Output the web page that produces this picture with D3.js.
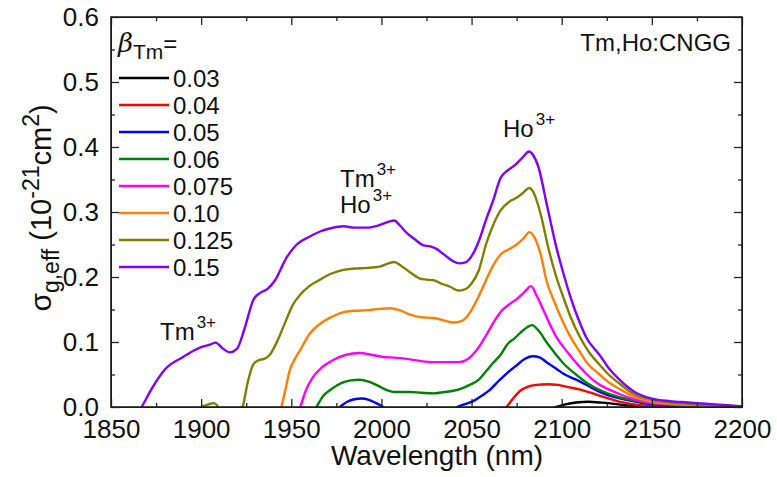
<!DOCTYPE html>
<html>
<head>
<meta charset="utf-8">
<script src="https://cdn.jsdelivr.net/npm/d3@7"></script>
<style>
  body { margin: 0; background: #fff; }
  svg text { font-family: "Liberation Sans", Arial, sans-serif; fill: #111; }
</style>
</head>
<body>
<div id="chart"></div>
<script>
// beta_Tm values shown in the legend
const betas = ["0.03", "0.04", "0.05", "0.06", "0.075", "0.10", "0.125", "0.15"];
const colors = ["#000000", "#ff0000", "#0000ff", "#008000", "#ff00ff", "#ff8000", "#808000", "#8000ff"];

const xTicks = [1850, 1900, 1950, 2000, 2050, 2100, 2150, 2200];
const yTicks = [0.0, 0.1, 0.2, 0.3, 0.4, 0.5, 0.6];

// [wavelength nm, sigma_g,eff 1e-21 cm2] (negatives are clipped away)
const s003 = [[2088,-0.01],[2097,0],[2102,0.004],[2108,0.007],[2115,0.008],[2121,0.007],[2126,0.006],[2134,0.003],[2142,0.001],[2155,0]];
const s004 = [[2060,-0.03],[2069.5,0],[2073,0.013],[2077,0.025],[2081,0.031],[2086,0.034],[2092,0.035],[2098,0.034],[2103,0.031],[2110,0.027],[2116,0.022],[2125,0.014],[2134,0.007],[2142,0.003],[2152,0.001],[2165,0]];
const s005 = [[1970,-0.02],[1977,0],[1981,0.008],[1985,0.012],[1989,0.013],[1993,0.011],[1997,0.006],[2001,0],[2010,-0.03],[2030,-0.03],[2042,0],[2046,0.004],[2051,0.009],[2056,0.018],[2060,0.026],[2065,0.04],[2070,0.053],[2075,0.064],[2079,0.073],[2084,0.078],[2088,0.076],[2092,0.068],[2097,0.059],[2101,0.051],[2108,0.042],[2115,0.032],[2122,0.022],[2134,0.012],[2145,0.006],[2155,0.003],[2165,0.001],[2180,0]];
const s006 = [[1958,-0.03],[1964,0],[1968,0.018],[1972,0.027],[1978,0.037],[1983,0.041],[1988,0.042],[1993,0.039],[1998,0.033],[2003,0.026],[2007,0.023],[2012,0.023],[2016,0.023],[2022,0.022],[2029,0.021],[2035,0.023],[2040,0.025],[2045,0.029],[2049,0.034],[2054,0.042],[2058,0.055],[2062,0.068],[2066,0.08],[2070,0.097],[2074,0.106],[2077,0.114],[2081,0.123],[2083.5,0.126],[2087,0.118],[2092,0.098],[2097,0.08],[2101,0.067],[2107,0.052],[2114,0.037],[2122,0.025],[2132,0.015],[2140,0.01],[2150,0.006],[2160,0.004],[2170,0.002],[2185,0.001],[2200,0]];
const s0075 = [[1948,-0.04],[1955,0],[1958,0.025],[1962,0.046],[1967,0.061],[1973,0.072],[1980,0.08],[1988,0.083],[1995,0.08],[2001,0.077],[2007,0.076],[2014,0.074],[2021,0.071],[2029,0.069],[2036,0.069],[2043,0.069],[2048,0.074],[2053,0.088],[2058,0.11],[2062,0.129],[2067,0.149],[2071,0.158],[2075,0.166],[2079,0.176],[2083,0.186],[2086,0.172],[2090,0.148],[2097,0.108],[2103,0.085],[2108,0.068],[2114,0.05],[2120,0.036],[2126,0.027],[2132,0.02],[2140,0.012],[2150,0.006],[2160,0.004],[2170,0.002],[2185,0.001],[2200,0]];
const s010 = [[1938,-0.04],[1944.5,0],[1947,0.03],[1949,0.055],[1952,0.074],[1955,0.088],[1960,0.112],[1966,0.128],[1972,0.138],[1979,0.146],[1985,0.148],[1992,0.149],[1999,0.151],[2005,0.152],[2010,0.149],[2016,0.142],[2022,0.138],[2029,0.137],[2035,0.133],[2040,0.13],[2045,0.133],[2049,0.145],[2053,0.165],[2058,0.195],[2062,0.218],[2067,0.237],[2071,0.243],[2075,0.25],[2079,0.26],[2082,0.269],[2084,0.265],[2088,0.238],[2092,0.19],[2095,0.168],[2100,0.135],[2105,0.107],[2110,0.085],[2114,0.068],[2121,0.05],[2126,0.038],[2132,0.028],[2140,0.016],[2150,0.008],[2160,0.005],[2170,0.003],[2185,0.001],[2200,0]];
const s0125 = [[1893,-0.02],[1900,0],[1904,0.004],[1907,0.006],[1909,0.002],[1912,-0.015],[1918,-0.02],[1923,0],[1926,0.04],[1929,0.066],[1932,0.072],[1935,0.074],[1938,0.08],[1942,0.1],[1946,0.126],[1951,0.158],[1955,0.173],[1960,0.186],[1966,0.196],[1972,0.205],[1979,0.211],[1985,0.213],[1992,0.214],[1999,0.216],[2004,0.221],[2007,0.223],[2011,0.217],[2016,0.207],[2021,0.198],[2025,0.196],[2029,0.195],[2033,0.19],[2038,0.185],[2043,0.179],[2047,0.182],[2050,0.19],[2054,0.21],[2058,0.25],[2062,0.28],[2066,0.302],[2071,0.316],[2075,0.322],[2078,0.328],[2082,0.337],[2084,0.332],[2088,0.3],[2093,0.24],[2097,0.2],[2101,0.168],[2105,0.138],[2110,0.108],[2115,0.085],[2121,0.065],[2126,0.05],[2132,0.036],[2140,0.02],[2150,0.011],[2160,0.007],[2170,0.005],[2180,0.003],[2190,0.002],[2200,0.001]];
const s015 = [[1855,-0.05],[1867,0],[1873,0.03],[1880,0.058],[1890,0.077],[1899,0.091],[1905,0.096],[1908,0.099],[1912,0.09],[1916,0.084],[1920,0.09],[1924,0.12],[1929,0.165],[1933,0.176],[1937,0.182],[1941,0.195],[1947,0.228],[1953,0.25],[1960,0.262],[1966,0.27],[1972,0.275],[1979,0.278],[1985,0.276],[1992,0.276],[1999,0.28],[2004,0.285],[2007,0.287],[2010,0.28],[2014,0.268],[2019,0.257],[2023,0.249],[2027,0.247],[2030,0.244],[2035,0.234],[2040,0.224],[2043,0.221],[2047,0.223],[2050,0.232],[2054,0.255],[2058,0.288],[2062,0.318],[2066,0.352],[2070,0.364],[2074,0.372],[2078,0.383],[2082,0.393],[2084,0.388],[2087,0.37],[2092,0.308],[2097,0.246],[2101,0.205],[2105,0.168],[2110,0.13],[2114,0.105],[2118,0.09],[2121,0.08],[2126,0.06],[2132,0.042],[2140,0.024],[2150,0.013],[2160,0.009],[2170,0.007],[2180,0.005],[2190,0.003],[2200,0.001]];

const series = [s003, s004, s005, s006, s0075, s010, s0125, s015];

const width = 777, height = 477;
const margin = { left: 111, right: 35, top: 17, bottom: 70 };
const innerW = width - margin.left - margin.right;
const innerH = height - margin.top - margin.bottom;

const svg = d3.select("#chart").append("svg")
  .attr("width", width)
  .attr("height", height);

const x = d3.scaleLinear().domain([1850, 2200]).range([0, innerW]);
const y = d3.scaleLinear().domain([0, 0.6]).range([innerH, 0]);

const g = svg.append("g").attr("transform", `translate(${margin.left},${margin.top})`);

g.append("clipPath").attr("id", "plot-clip")
  .append("rect").attr("x", 0).attr("y", 0).attr("width", innerW).attr("height", innerH);

const line = d3.line()
  .x((d) => x(d[0]))
  .y((d) => y(d[1]))
  .curve(d3.curveMonotoneX);

g.append("g").attr("clip-path", "url(#plot-clip)")
  .selectAll("path")
  .data(series)
  .join("path")
  .attr("d", line)
  .attr("fill", "none")
  .attr("stroke", (d, i) => colors[i])
  .attr("stroke-width", 2.4)
  .attr("stroke-linejoin", "round");

// axes: ticks point inward on all four sides
const xMinor = d3.range(1875, 2200, 50);
const yMinor = d3.range(0.05, 0.6, 0.1);

function styleAxis(sel) {
  sel.select(".domain").remove();
  sel.selectAll("line").attr("stroke", "#222").attr("stroke-width", 1.3);
}

const axB = g.append("g").attr("transform", `translate(0,${innerH})`)
  .call(d3.axisBottom(x).tickValues(xTicks).tickSize(-8).tickPadding(13).tickFormat(d3.format("d")));
axB.append("g").call(d3.axisBottom(x).tickValues(xMinor).tickSize(-4).tickFormat(""));
styleAxis(axB);
axB.selectAll("text").attr("font-size", 26).attr("dy", "0.68em");

const axT = g.append("g")
  .call(d3.axisTop(x).tickValues(xTicks).tickSize(-8).tickFormat(""));
axT.append("g").call(d3.axisTop(x).tickValues(xMinor).tickSize(-4).tickFormat(""));
styleAxis(axT);

const axL = g.append("g")
  .call(d3.axisLeft(y).tickValues(yTicks).tickSize(-8).tickPadding(12).tickFormat(d3.format(".1f")));
axL.append("g").call(d3.axisLeft(y).tickValues(yMinor).tickSize(-4).tickFormat(""));
styleAxis(axL);
axL.selectAll("text").attr("font-size", 26);

const axR = g.append("g").attr("transform", `translate(${innerW},0)`)
  .call(d3.axisRight(y).tickValues(yTicks).tickSize(-8).tickFormat(""));
axR.append("g").call(d3.axisRight(y).tickValues(yMinor).tickSize(-4).tickFormat(""));
styleAxis(axR);

g.append("rect")
  .attr("width", innerW).attr("height", innerH)
  .attr("fill", "none").attr("stroke", "#222").attr("stroke-width", 1.6);

// axis titles
svg.append("text")
  .attr("x", 437)
  .attr("y", 465)
  .attr("text-anchor", "middle")
  .attr("font-size", 28)
  .text("Wavelength (nm)");

const yt = svg.append("text")
  .attr("transform", "translate(51,208) rotate(-90)")
  .attr("text-anchor", "middle")
  .attr("font-size", 29);
yt.append("tspan").attr("font-size", 30).text("σ");
yt.append("tspan").attr("font-size", 23).attr("dy", 8).text("g,eff");
yt.append("tspan").attr("dy", -8).text(" (10");
yt.append("tspan").attr("font-size", 23).attr("dy", -12).text("-21");
yt.append("tspan").attr("dy", 12).text("cm");
yt.append("tspan").attr("font-size", 23).attr("dy", -12).text("2");
yt.append("tspan").attr("dy", 12).text(")");

// legend
const legend = svg.append("g");
const lt = legend.append("text").attr("x", 118).attr("y", 52).attr("font-size", 24);
lt.append("tspan").attr("font-family", "'DejaVu Serif', 'Liberation Serif', serif").attr("font-style", "italic").attr("font-size", 26).text("β");
lt.append("tspan").attr("font-size", 21).attr("dy", 7).text("Tm");
lt.append("tspan").attr("dy", -7).text("=");

const legendY = d3.scaleLinear().domain([0, 1]).range([78, 105]);
const items = legend.selectAll("g.item")
  .data(betas)
  .join("g")
  .attr("class", "item")
  .attr("transform", (d, i) => `translate(0,${legendY(i)})`);
items.append("line")
  .attr("x1", 119).attr("x2", 169)
  .attr("stroke", (d, i) => colors[i])
  .attr("stroke-width", 2.4);
items.append("text")
  .attr("x", 173).attr("y", 0)
  .attr("dy", "0.36em")
  .attr("font-size", 24)
  .text((d) => d);

// annotations
svg.append("text").attr("x", 731).attr("y", 51).attr("text-anchor", "end")
  .attr("font-size", 24).text("Tm,Ho:CNGG");

function ion(xp, yp, name, sup) {
  const t = svg.append("text").attr("x", xp).attr("y", yp).attr("font-size", 24);
  t.append("tspan").text(name);
  t.append("tspan").attr("font-size", 17).attr("dy", -12).attr("dx", 2).text(sup);
  return t;
}
ion(503, 137, "Ho", "3+");
ion(340, 187, "Tm", "3+");
ion(340, 213, "Ho", "3+");
ion(160, 340, "Tm", "3+");
</script>
</body>
</html>
